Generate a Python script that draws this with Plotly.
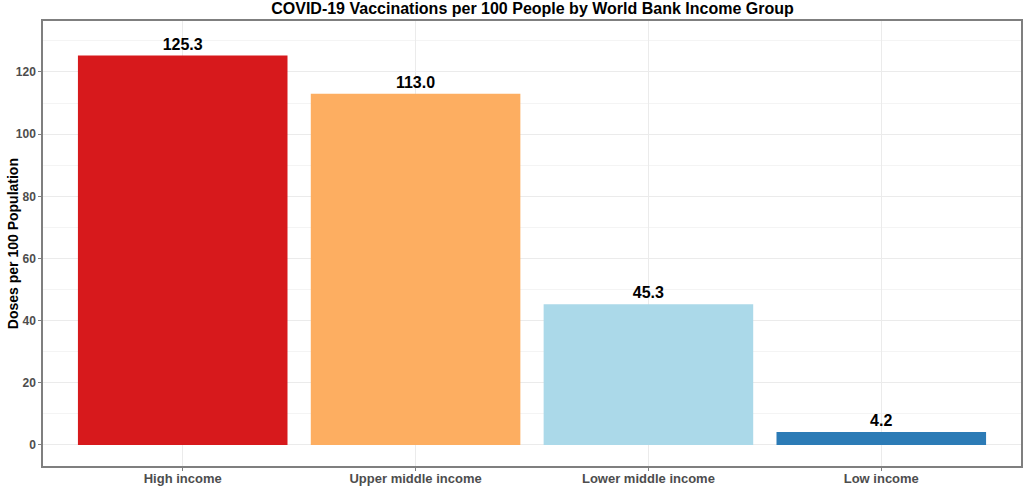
import plotly.graph_objects as go

categories = ["High income", "Upper middle income", "Lower middle income", "Low income"]
doses_per_100 = [125.3, 113.0, 45.3, 4.2]
bar_colors = ["#d7191c", "#fdae61", "#abd9e9", "#2c7bb6"]
y_ticks = [0, 20, 40, 60, 80, 100, 120]

FONT = "Liberation Sans, Arial, sans-serif"

fig = go.Figure(go.Bar(
    x=categories,
    y=doses_per_100,
    marker=dict(color=bar_colors, line=dict(width=0)),
    width=0.9,
    text=[f"{v:.1f}" for v in doses_per_100],
    textposition="outside",
    textfont=dict(family=FONT, size=16, color="black", weight="bold"),
    cliponaxis=False,
))

fig.update_layout(
    width=1024, height=486,
    margin=dict(l=43, r=3, t=21, b=20, autoexpand=False),
    paper_bgcolor="white", plot_bgcolor="white",
    title=dict(text="COVID-19 Vaccinations per 100 People by World Bank Income Group",
               x=0.52, xanchor="center", yref="container", y=1, yanchor="top",
               pad=dict(t=3),
               font=dict(family=FONT, size=16, color="black", weight="bold")),
    showlegend=False,
    bargap=0.1,
    annotations=[dict(text="Doses per 100 Population", xref="paper", yref="paper",
                      x=-0.031, y=0.5, xanchor="center", yanchor="middle", textangle=-90,
                      showarrow=False,
                      font=dict(family=FONT, size=14, color="black", weight="bold"))],
)

fig.update_xaxes(
    range=[-0.6, 3.6], automargin=False,
    showline=True, mirror=True, linecolor="#7f7f7f", linewidth=1.5,
    showgrid=True, gridcolor="#ebebeb", gridwidth=1,
    ticks="outside", ticklen=3, tickcolor="#7f7f7f",
    ticklabelstandoff=-3,
    tickfont=dict(family=FONT, size=13, color="#4d4d4d", weight="bold"),
)

fig.update_yaxes(
    range=[-6.76, 136.4], automargin=False,
    tickvals=y_ticks,
    showline=True, mirror=True, linecolor="#7f7f7f", linewidth=1.5,
    showgrid=True, gridcolor="#ebebeb", gridwidth=1,
    zeroline=False,
    ticks="outside", ticklen=3, tickcolor="#7f7f7f",
    tickfont=dict(family=FONT, size=12, color="#4d4d4d", weight="bold"),
    minor=dict(tickvals=[10, 30, 50, 70, 90, 110, 130], showgrid=True,
               gridcolor="#f4f4f4", gridwidth=1, ticklen=0),
)

fig.write_html(
    "out.html",
    config={"displayModeBar": False},
    post_script="document.body.style.margin='0';document.body.style.padding='0';"
                "document.documentElement.style.overflow='hidden';",
)
